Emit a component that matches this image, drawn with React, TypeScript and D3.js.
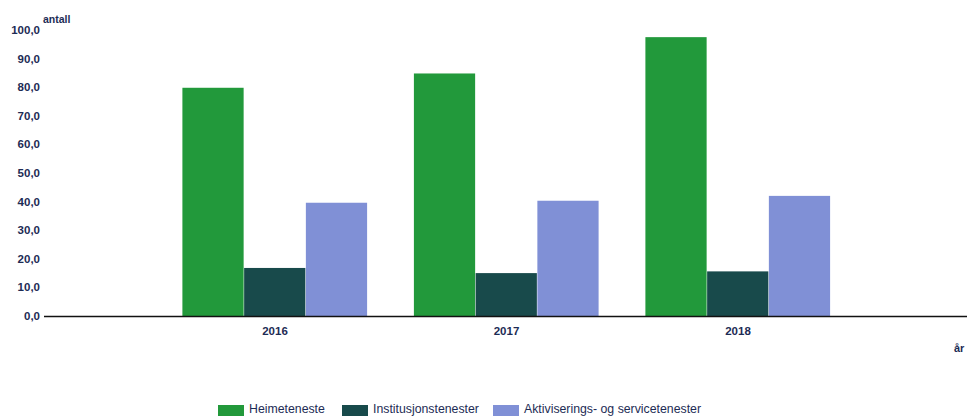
import { useEffect, useRef } from 'react';
import * as d3 from 'd3';

const years = ['2016', '2017', '2018'];
const seriesNames = ['Heimeteneste', 'Institusjonstenester', 'Aktiviserings- og servicetenester'];
const heimeteneste = [79.8, 84.8, 97.5];
const institusjon = [16.8, 15.0, 15.6];
const aktivisering = [39.6, 40.3, 42.0];
const colors = ['#22993b', '#184a4b', '#8090d6'];
const yTicks = [0, 10, 20, 30, 40, 50, 60, 70, 80, 90, 100];

const W = 967, H = 417;
const textColor = '#1d2c55';
const font = '"Liberation Sans", Arial, sans-serif';

export default function App() {
  const svgRef = useRef<SVGSVGElement>(null);

  useEffect(() => {
    if (!svgRef.current) return;
    const svg = d3.select(svgRef.current);
    svg.selectAll('*').remove();

    const values = [heimeteneste, institusjon, aktivisering];
    const y = d3.scaleLinear().domain([0, 100]).range([316, 30]);
    const x0 = d3.scaleBand().domain(years).range([159.25, 853.75]).paddingInner(0.2).paddingOuter(0.1);
    const x1 = d3.scaleBand().domain(seriesNames).range([0, x0.bandwidth()]);

    // bars
    years.forEach((yr, i) => {
      const g = svg.append('g').attr('transform', `translate(${x0(yr)},0)`);
      seriesNames.forEach((s, j) => {
        const v = values[j][i];
        g.append('rect')
          .attr('x', x1(s)!)
          .attr('width', x1.bandwidth() - 0.5)
          .attr('y', y(v))
          .attr('height', y(0) - y(v))
          .attr('fill', colors[j]);
      });
      svg.append('text')
        .attr('x', x0(yr)! + x0.bandwidth() / 2)
        .attr('y', 335)
        .attr('text-anchor', 'middle')
        .attr('font-family', font).attr('font-size', 11.5).attr('font-weight', 'bold')
        .attr('fill', textColor)
        .text(yr);
    });

    // y tick labels
    svg.selectAll('text.ytick').data(yTicks).enter().append('text')
      .attr('class', 'ytick')
      .attr('x', 40)
      .attr('y', d => y(d))
      .attr('dy', '0.35em')
      .attr('text-anchor', 'end')
      .attr('font-family', font).attr('font-size', 11.5).attr('font-weight', 'bold')
      .attr('fill', textColor)
      .text(d => d3.format('.1f')(d).replace('.', ','));

    // baseline
    svg.append('line').attr('x1', 44).attr('x2', W).attr('y1', y(0) + 0.5).attr('y2', y(0) + 0.5)
      .attr('stroke', '#111').attr('stroke-width', 1.5);

    svg.append('text').attr('x', 43).attr('y', 23)
      .attr('font-family', font).attr('font-size', 10.5).attr('font-weight', 'bold').attr('fill', textColor)
      .text('antall');
    svg.append('text').attr('x', 954).attr('y', 352)
      .attr('font-family', font).attr('font-size', 11).attr('font-weight', 'bold').attr('fill', textColor)
      .text('år');

    // legend
    const legendX = [218, 342, 493];
    seriesNames.forEach((s, j) => {
      svg.append('rect').attr('x', legendX[j]).attr('y', 405).attr('width', 26).attr('height', 11).attr('fill', colors[j]);
      svg.append('text').attr('x', legendX[j] + 31).attr('y', 413)
        .attr('font-family', font).attr('font-size', 12.3).attr('fill', textColor)
        .text(s);
    });
  }, []);

  return (
    <svg ref={svgRef} width={W} height={H} viewBox={`0 0 ${W} ${H}`}
      style={{ position: 'absolute', left: 0, top: 0, background: '#fff' }} />
  );
}
